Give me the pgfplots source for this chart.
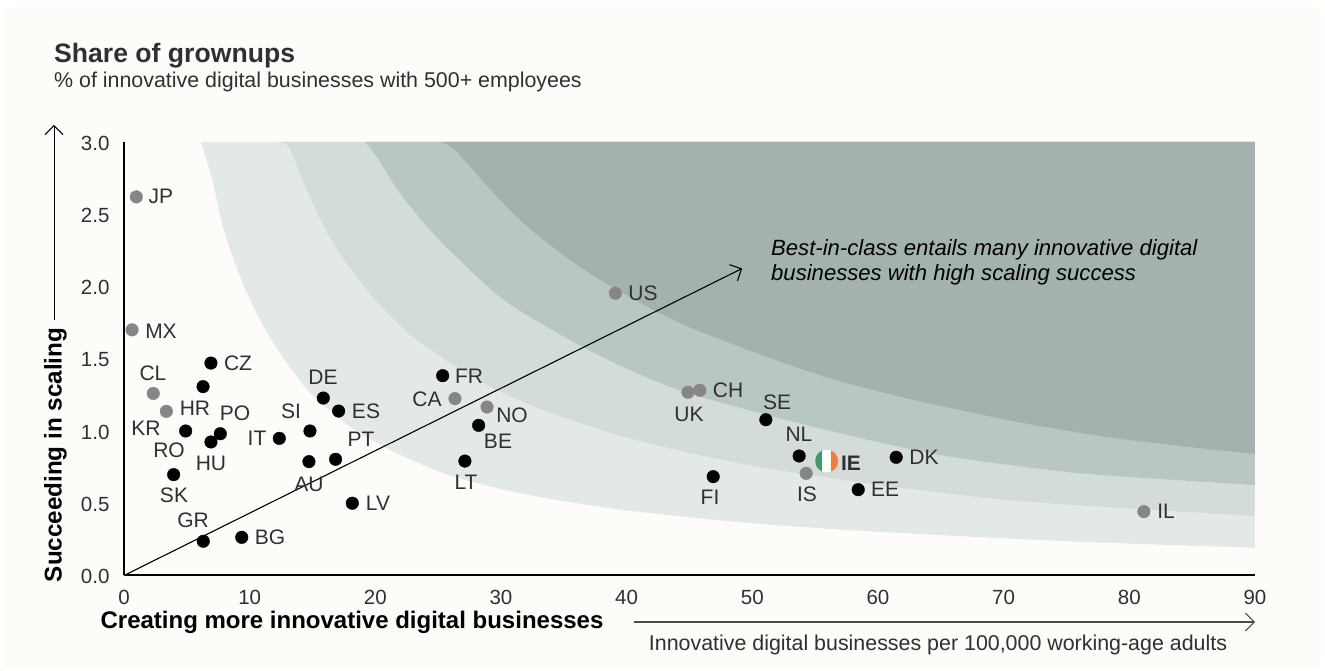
\documentclass[border=0pt]{standalone}
\usepackage{pgfplots}
\pgfplotsset{compat=1.18}
\usepackage{fontspec}
\setmainfont{Liberation Sans}
\usetikzlibrary{arrows.meta}
\definecolor{bgc}{HTML}{FDFCF8}
\definecolor{bA}{HTML}{E2E9E7}
\definecolor{bB}{HTML}{D3DCD9}
\definecolor{bC}{HTML}{B8C7C1}
\definecolor{bD}{HTML}{A3B1AF}
\definecolor{txt}{HTML}{303033}
\definecolor{gdot}{HTML}{868686}
\definecolor{ieg}{HTML}{3F9C69}
\definecolor{ieo}{HTML}{F27C3C}
\pgfdeclareplotmark{ieflag}{%
  \pgfpathcircle{\pgfpointorigin}{11.5pt}\pgfusepath{clip}%
  \pgfsetfillcolor{ieg}\pgfpathrectangle{\pgfpoint{-11.5pt}{-11.5pt}}{\pgfpoint{8pt}{23pt}}\pgfusepath{fill}%
  \pgfsetfillcolor{white}\pgfpathrectangle{\pgfpoint{-4.5pt}{-11.5pt}}{\pgfpoint{9.5pt}{23pt}}\pgfusepath{fill}%
  \pgfsetfillcolor{ieo}\pgfpathrectangle{\pgfpoint{4.5pt}{-11.5pt}}{\pgfpoint{7pt}{23pt}}\pgfusepath{fill}%
}
\newcommand{\fs}[1]{\fontsize{#1}{#1}\selectfont}
\newcommand{\PX}[3]{\node[text=txt,font=\fs{21},inner sep=0pt] at ({#1pt},{(671-#2)*1pt}) {#3};}
\begin{document}
\begin{tikzpicture}[x=1pt,y=1pt]
\fill[white] (0,0) rectangle (1325,671);
\fill[bgc] (5,4) rectangle (1320,664);
\begin{axis}[
  at={(124pt,95.5pt)}, anchor=south west,
  scale only axis, width=1131pt, height=433.5pt,
  xmin=0, xmax=90, ymin=0, ymax=3,
  axis lines=left,
  axis line style={-, line width=2pt, black},
  xtick={0,10,...,90}, ytick={0,0.5,1,1.5,2,2.5,3},
  major tick length=0pt,
  tick label style={font=\fs{20.5}, text=txt},
  /pgf/number format/assume math mode=true,
  yticklabel style={/pgf/number format/fixed, /pgf/number format/fixed zerofill, /pgf/number format/precision=1, xshift=-11pt, yshift=-1pt},
  xticklabel style={yshift=-11pt},
  clip=false,
]
\addplot[fill=bA, draw=none, smooth, tension=0.5] coordinates {
(6.13,3) (7.08,2.72) (7.88,2.41) (9.23,2.07) (10.82,1.77) (12.41,1.54) (14.0,1.35) (15.04,1.245) (18.0,1.03) (21.17,0.87) (25.68,0.70) (30.95,0.58) (36.29,0.497) (41.06,0.44) (49.0,0.369) (57,0.318) (61.2,0.297) (69.0,0.262) (77.1,0.23) (90,0.192)} -- (axis cs:90,3) -- cycle;
\addplot[fill=bB, draw=none, smooth, tension=0.5] coordinates {
(12.25,3) (13.13,2.965) (14.56,2.668) (16.63,2.301) (19.34,1.976) (21.96,1.73) (23.55,1.615) (26.5,1.443) (29.68,1.284) (33.1,1.155) (36.29,1.055) (41.06,0.93) (49.02,0.775) (56.97,0.665) (63.9,0.585) (70,0.525) (77.1,0.48) (90,0.412)} -- (axis cs:90,3) -- cycle;
\addplot[fill=bC, draw=none, smooth, tension=0.5] coordinates {
(19.18,3) (20.13,2.896) (21.96,2.647) (24.59,2.37) (27.29,2.135) (29.92,1.927) (32.3,1.79) (36.52,1.581) (40.26,1.422) (44.8,1.265) (51.17,1.111) (56.97,0.985) (63.9,0.85) (70,0.77) (77.1,0.70) (90,0.626)} -- (axis cs:90,3) -- cycle;
\addplot[fill=bD, draw=none, smooth, tension=0.5] coordinates {
(25.22,3) (26.18,2.958) (27.29,2.855) (29.92,2.60) (32.3,2.40) (36.29,2.135) (40.26,1.927) (44.24,1.747) (48.22,1.609) (52.2,1.48) (56.97,1.345) (63.1,1.21) (71.85,1.05) (79.8,0.94) (90,0.841)} -- (axis cs:90,3) -- cycle;
\addplot[black, line width=1.1pt, -{Straight Barb[length=9pt,width=18pt,line width=1.1pt]}] coordinates {(0,0) (49.2,2.125)};
\addplot[only marks, mark=*, mark size=6.3pt, mark options={fill=gdot, draw=none}, gdot] coordinates {
(0.98,2.62) (0.64,1.70) (2.33,1.26) (3.37,1.136) (26.34,1.224) (28.89,1.166) (39.1,1.953) (44.88,1.268) (45.83,1.282) (54.29,0.707) (81.16,0.442)};
\addplot[only marks, mark=*, mark size=6.3pt, mark options={fill=black, draw=none}, black] coordinates {
(6.92,1.47) (6.29,1.307) (4.91,1.0) (7.66,0.981) (6.92,0.924) (3.95,0.698) (6.31,0.237) (9.37,0.264) (12.36,0.949) (14.8,1.0) (14.72,0.788) (16.84,0.804) (15.86,1.228) (17.08,1.138) (18.17,0.5) (25.36,1.383) (28.22,1.039) (27.13,0.792) (51.08,1.078) (53.73,0.827) (46.89,0.684) (61.45,0.818) (58.43,0.594)};
\addplot[only marks, mark=ieflag] coordinates {(55.92,0.792)};
\end{axis}
% country labels
\PX{161}{196}{JP}\PX{161}{331}{MX}\PX{238}{363}{CZ}\PX{153}{373}{CL}\PX{195}{408}{HR}\PX{235}{413}{PO}
\PX{146}{428}{KR}\PX{169}{450}{RO}\PX{211}{463}{HU}\PX{174}{495}{SK}\PX{193}{520}{GR}\PX{270}{537}{BG}
\PX{257}{438}{IT}\PX{291}{411}{SI}\PX{323}{377}{DE}\PX{366}{411}{ES}\PX{361}{439}{PT}\PX{309}{484}{AU}
\PX{378}{503}{LV}\PX{469}{376}{FR}\PX{427}{399}{CA}\PX{512}{415}{NO}\PX{498}{441}{BE}\PX{466}{482}{LT}
\PX{643}{293}{US}\PX{728}{390}{CH}\PX{689}{414}{UK}\PX{777}{402}{SE}\PX{799}{434}{NL}\PX{807}{494}{IS}
\PX{710}{497}{FI}\PX{851}{463}{\textbf{IE}}\PX{924}{457}{DK}\PX{885}{489}{EE}\PX{1166}{511}{IL}
% titles
\node[anchor=base west, text=txt, inner sep=0pt, font=\fs{26.6}\bfseries] at (54,{671-63}) {Share of grownups};
\node[anchor=base west, text=txt, inner sep=0pt, font=\fs{21.4}] at (54,{671-88}) {\% of innovative digital businesses with 500+ employees};
\node[anchor=base west, text=black, inner sep=0pt, font=\fs{22.1}\itshape] at (771,{671-256}) {Best-in-class entails many innovative digital};
\node[anchor=base west, text=black, inner sep=0pt, font=\fs{22.1}\itshape] at (771,{671-281}) {businesses with high scaling success};
\node[text=black, inner sep=0pt, font=\fs{24}\bfseries] at (352,{671-622}) {Creating more innovative digital businesses};
\node[text=black, inner sep=0pt, font=\fs{24.2}\bfseries, rotate=90] at (55.5,{671-455}) {Succeeding in scaling};
\node[text=txt, inner sep=0pt, font=\fs{21.4}] at (938,{671-645}) {Innovative digital businesses per 100,000 working-age adults};
% axis direction arrows
\draw[line width=1pt, black, -{Straight Barb[length=9pt,width=18pt,line width=1pt]}] (54,{671-320}) -- (54,{671-125});
\draw[line width=1.2pt, black!70, -{Straight Barb[length=9pt,width=18pt,line width=1pt]}] (634,{671-622}) -- (1255,{671-622});
\end{tikzpicture}
\end{document}
